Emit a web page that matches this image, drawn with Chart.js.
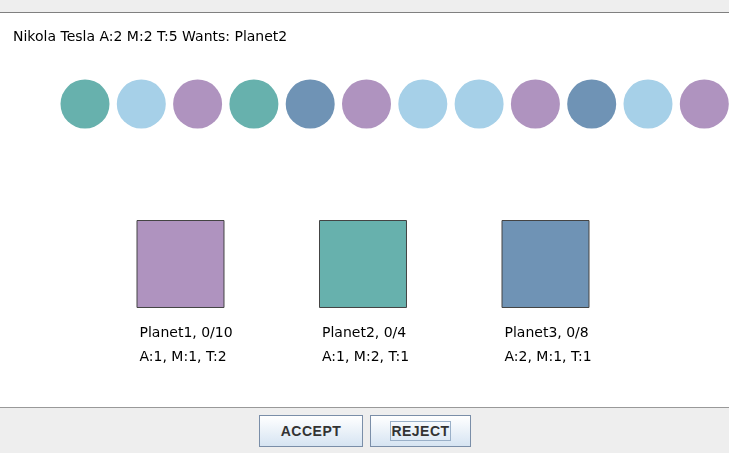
<!DOCTYPE html>
<html>
<head>
<meta charset="utf-8">
<script src="https://cdn.jsdelivr.net/npm/chart.js@4"></script>
<style>
  body { margin: 0; width: 729px; height: 453px; background: #eeeeee; position: relative; overflow: hidden; font-family: "DejaVu Sans", sans-serif; }
  #top { position: absolute; left: 0; top: 0; width: 729px; height: 12px; background: #eeeeee; border-bottom: 1px solid #808080; }
  #panel { position: absolute; left: 0; top: 13px; width: 729px; height: 394px; background: #fff; }
  #bottom { position: absolute; left: 0; top: 407px; width: 729px; height: 46px; background: #eeeeee; border-top: 1px solid #999; }
  .btn { position: absolute; top: 7px; height: 32px; box-sizing: border-box; border: 1px solid #7a8ea8;
         background: linear-gradient(#ffffff, #d6e4f2); font: bold 14px "Liberation Sans", Arial, sans-serif; color: #333;
         display: flex; align-items: center; justify-content: center; letter-spacing: 0.5px; }
</style>
</head>
<body>
<div id="top"></div>
<div id="panel"><canvas id="c" width="729" height="394"></canvas></div>
<div id="bottom">
  <div class="btn" style="left:259px;width:104px;">ACCEPT</div>
  <div class="btn" style="left:370px;width:101px;"><span style="border:1px solid #9ab0c8;padding:1px 0">REJECT</span></div>
</div>
<script>
const title = 'Nikola Tesla A:2 M:2 T:5 Wants: Planet2';
const circleColors = ['#67b1ad', '#a6d0e8', '#af93bf', '#67b1ad', '#6f93b5', '#af93bf',
                      '#a6d0e8', '#a6d0e8', '#af93bf', '#6f93b5', '#a6d0e8', '#af93bf'];
const planets = ['Planet1', 'Planet2', 'Planet3'];
const planetColors = ['#af93bf', '#67b1ad', '#6f93b5'];
const planetCounts = ['0/10', '0/4', '0/8'];
const planetStats = ['A:1, M:1, T:2', 'A:1, M:2, T:1', 'A:2, M:1, T:1'];

const textPlugin = {
  id: 'texts',
  afterDraw(chart) {
    const c = chart.ctx;
    const xp = chart.scales.xp, y = chart.scales.y;
    c.save();
    c.fillStyle = '#000';
    c.font = '14px "DejaVu Sans", sans-serif';
    c.textBaseline = 'alphabetic';
    c.fillText(title, 13, 28);
    planets.forEach((p, i) => {
      const left = xp.getPixelForValue(i) - 41;
      const cy = y.getPixelForValue(0);
      c.fillText(p + ', ' + planetCounts[i], left, cy + 73);
      c.fillText(planetStats[i], left, cy + 97);
    });
    c.restore();
  }
};

new Chart(document.getElementById('c'), {
  type: 'scatter',
  data: {
    datasets: [{
      data: circleColors.map((_, i) => ({ x: i, y: 1 })),
      xAxisID: 'x',
      clip: false,
      pointRadius: 24.5,
      pointBackgroundColor: circleColors,
      pointBorderWidth: 0
    }, {
      data: planets.map((_, i) => ({ x: i, y: 0 })),
      xAxisID: 'xp',
      clip: false,
      pointStyle: 'rect',
      pointRadius: 61.5,
      pointBackgroundColor: planetColors,
      pointBorderColor: '#444',
      pointBorderWidth: 1
    }]
  },
  options: {
    responsive: false, animation: false, events: [],
    layout: { padding: 0, autoPadding: false },
    plugins: { legend: { display: false }, tooltip: { enabled: false } },
    scales: {
      x: { type: 'linear', min: -85 / 56.3, max: (729 - 85) / 56.3, display: false },
      xp: { type: 'linear', min: -180.5 / 182.5, max: (729 - 180.5) / 182.5, display: false },
      y: { min: -143 / 160, max: 1 + 91 / 160, display: false }
    }
  },
  plugins: [textPlugin]
});
</script>
</body>
</html>
